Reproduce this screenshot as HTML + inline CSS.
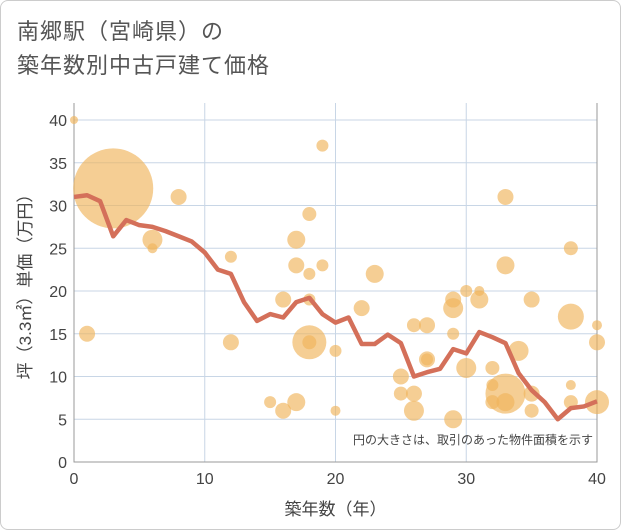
<!DOCTYPE html>
<html><head><meta charset="utf-8"><style>
body{margin:0;background:#fff;font-family:"Liberation Sans","Noto Sans CJK JP",sans-serif;}
#wrap{position:relative;width:619px;height:528px;border:1px solid #ccc;border-radius:8px;overflow:hidden;}
#title{position:absolute;left:16px;top:14px;font-size:22px;line-height:34px;color:#555;letter-spacing:1px;}
svg{position:absolute;left:0;top:0;}
</style></head><body>
<div id="wrap">
<div id="title">南郷駅（宮崎県）の<br>築年数別中古戸建て価格</div>
<svg id="chart" width="621" height="530"></svg>
</div>
<script>
const xTicks=[0,10,20,30,40];
const yTicks=[0,5,10,15,20,25,30,35,40];
const lineYears=[0,1,2,3,4,5,6,7,8,9,10,11,12,13,14,15,16,17,18,19,20,21,22,23,24,25,26,27,28,29,30,31,32,33,34,35,36,37,38,39,40];
const lineValues=[31,31.2,30.5,26.4,28.3,27.7,27.5,27,26.4,25.8,24.5,22.5,22,18.7,16.5,17.3,16.9,18.7,19.2,17.3,16.3,16.9,13.8,13.8,14.9,13.9,10,10.5,10.9,13.2,12.7,15.2,14.6,13.9,10.4,8.4,7,5,6.3,6.5,7.1];
const bubbleX=[0,1,3,6,6,8,12,12,15,16,16,17,17,17,18,18,18,18,18,19,19,20,20,22,23,25,25,26,26,26,27,27,27,29,29,29,29,30,30,31,31,32,32,32,33,33,33,33,34,35,35,35,38,38,38,38,40,40,40];
const bubbleY=[40,15,32,26,25,31,24,14,7,6,19,26,23,7,29,22,19,14,14,37,23,13,6,18,22,10,8,16,8,6,16,12,12,19,18,15,5,20,11,19,20,11,9,7,31,23,8,7,13,19,8,6,25,17,9,7,16,14,7];
const bubbleR=[4,8,40,10,5,8,6,8,6,8,8,9,8,9,7,6,6,17,7,6,6,6,5,8,9,8,7,7,8,10,8,8,6,8,10,6,9,6,10,9,5,7,6,7,8,9,20,9,10,8,8,7,7,13,5,7,5,8,12];
const NS="http://www.w3.org/2000/svg";
const svg=document.getElementById('chart');
const X0=73,X1=596,Y0=461,Y1=119;
const xs=v=>X0+(v-0)/40*(X1-X0);
const ys=v=>Y0-(v-0)/40*(Y0-Y1);
function mk(t,a){const e=document.createElementNS(NS,t);for(const k in a)e.setAttribute(k,a[k]);svg.appendChild(e);return e;}
const bg=mk('rect',{x:X0,y:102,width:X1-X0,height:Y0-102,fill:'#fff'});


yTicks.forEach(t=>{const l=mk('line',{x1:X0,x2:X1,y1:ys(t),y2:ys(t),stroke:'#c8d6e6','stroke-width':1});


const tx=mk('text',{x:X0-7,y:ys(t)+6,'text-anchor':'end','font-size':16,fill:'#444'});tx.textContent=t;

});
xTicks.forEach(t=>{const l=mk('line',{x1:xs(t),x2:xs(t),y1:102,y2:Y0,stroke:'#c8d6e6','stroke-width':1});


const tx=mk('text',{x:xs(t),y:Y0+22,'text-anchor':'middle','font-size':16,fill:'#444'});tx.textContent=t;

});
const fr=mk('path',{d:`M${X0},102V${Y0}H${X1}V102`,fill:'none',stroke:'#999','stroke-width':1});


bubbleX.forEach((v,i)=>{const c=mk('circle',{cx:xs(v),cy:ys(bubbleY[i]),r:bubbleR[i],fill:'rgba(240,180,90,0.65)'});

});
const pts=lineYears.map((v,i)=>xs(v)+','+ys(lineValues[i])).join(' ');
const pl=mk('polyline',{points:pts,fill:'none',stroke:'#d4705a','stroke-width':4.5,'stroke-linejoin':'round'});


const note=mk('text',{x:592,y:443,'text-anchor':'end','font-size':12,fill:'#444'});note.textContent='円の大きさは、取引のあった物件面積を示す';


const xt=mk('text',{x:(X0+X1)/2,y:514,'text-anchor':'middle','font-size':17,fill:'#444'});xt.textContent='築年数（年）';


const yt=mk('text',{x:0,y:0,'text-anchor':'middle','font-size':17,fill:'#444',transform:`translate(30,${(102+Y0)/2}) rotate(-90)`});yt.textContent='坪（3.3㎡）単価（万円）';


</script>
</body></html>
